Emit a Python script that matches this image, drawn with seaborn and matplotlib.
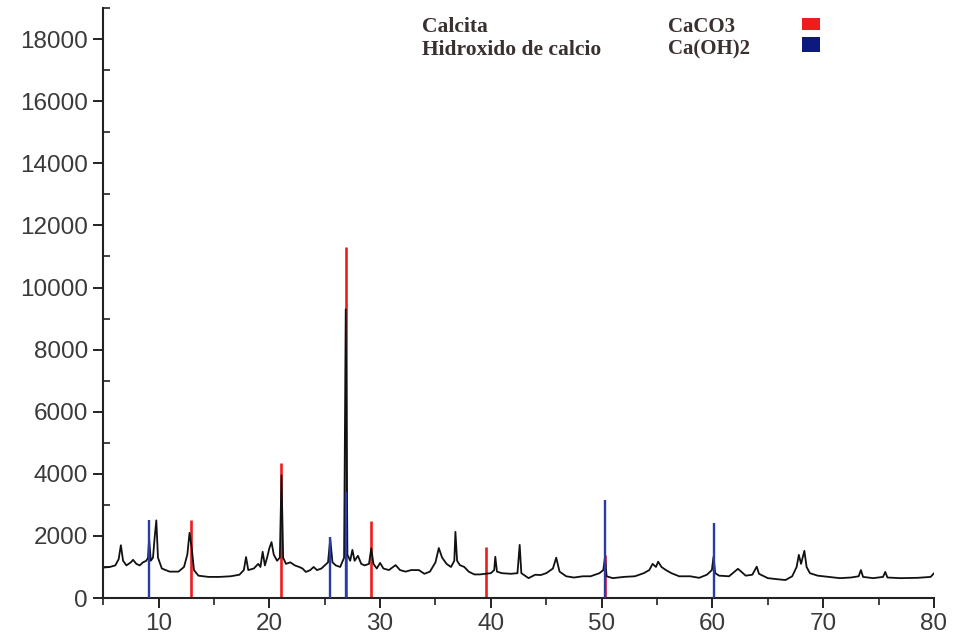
import matplotlib
matplotlib.use("Agg")
import matplotlib.pyplot as plt
import seaborn as sns
import pandas as pd
from matplotlib.ticker import MultipleLocator
from matplotlib.patches import Rectangle

# ---- data ----
two_theta = [5.0, 5.6, 6.1, 6.4, 6.6, 6.8, 7.1, 7.5, 7.7, 8.0, 8.3, 8.6, 8.9, 9.05, 9.15, 9.3,
             9.5, 9.65, 9.8, 9.95, 10.3, 11.0, 11.8, 12.3, 12.6, 12.8, 13.0, 13.2, 13.6, 14.5,
             15.5, 16.5, 17.3, 17.7, 17.9, 18.1, 18.6, 19.0, 19.2, 19.4, 19.6, 19.8, 20.0, 20.2,
             20.4, 20.7, 20.95, 21.1, 21.25, 21.5, 21.9, 22.3, 22.7, 23.0, 23.3, 23.7, 24.0, 24.3,
             24.7, 25.0, 25.3, 25.5, 25.7, 26.0, 26.4, 26.75, 26.9, 27.05, 27.3, 27.5, 27.7, 28.0,
             28.3, 28.6, 29.0, 29.2, 29.4, 29.7, 30.0, 30.3, 30.8, 31.4, 31.8, 32.3, 32.8, 33.5,
             34.0, 34.5, 35.0, 35.3, 35.6, 36.0, 36.4, 36.7, 36.8, 36.95, 37.2, 37.6, 38.0, 38.5,
             39.0, 39.5, 40.0, 40.3, 40.4, 40.55, 41.0, 41.8, 42.4, 42.6, 42.75, 43.4, 44.0, 44.5,
             45.0, 45.6, 45.9, 46.2, 46.8, 47.5, 48.3, 49.0, 49.8, 50.15, 50.3, 50.45, 51.0, 52.0,
             53.0, 53.8, 54.3, 54.6, 54.9, 55.1, 55.4, 55.8, 56.3, 57.0, 58.0, 58.8, 59.5, 59.95,
             60.1, 60.25, 60.6, 61.5, 62.0, 62.3, 62.6, 63.0, 63.6, 64.0, 64.2, 65.0, 66.0, 66.6,
             67.2, 67.6, 67.8, 68.0, 68.3, 68.5, 68.8, 69.5, 70.5, 71.5, 72.5, 73.2, 73.4, 73.6,
             74.5, 75.4, 75.6, 75.8, 77.0, 78.5, 79.7, 80.0]
intensity = [980, 1000, 1050, 1250, 1700, 1200, 1050, 1150, 1230, 1100, 1050, 1150, 1200, 1300, 1900, 1200,
             1300, 1950, 2500, 1300, 950, 850, 850, 1000, 1400, 2100, 1600, 900, 720, 680,
             680, 700, 750, 900, 1320, 900, 950, 1100, 1000, 1490, 1050, 1300, 1600, 1800,
             1400, 1200, 1300, 3950, 1300, 1100, 1150, 1050, 1000, 950, 840, 900, 1000, 900,
             950, 1050, 1150, 1900, 1150, 1050, 1000, 1300, 9300, 1400, 1200, 1550, 1200, 1360,
             1100, 1050, 1100, 1600, 1100, 950, 1130, 950, 900, 1060, 900, 850, 900, 900,
             780, 850, 1150, 1610, 1300, 1100, 1000, 1200, 2130, 1200, 1060, 1000, 850, 760,
             760, 780, 800, 900, 1330, 850, 800, 780, 800, 1710, 800, 640, 750, 740,
             800, 950, 1300, 850, 700, 660, 700, 700, 800, 900, 1300, 700, 640, 680,
             700, 800, 900, 1100, 1000, 1170, 1000, 900, 800, 700, 700, 650, 750, 900,
             1330, 800, 720, 700, 850, 940, 850, 720, 750, 1010, 780, 640, 600, 580,
             700, 1000, 1390, 1100, 1520, 1000, 800, 720, 680, 640, 660, 700, 900, 680,
             640, 680, 840, 660, 640, 650, 680, 800]

calcite_pos = [12.9, 21.1, 26.9, 29.2, 39.6, 50.3]
calcite_int = [2520, 4350, 11300, 2490, 1650, 1400]
portlandite_pos = [9.1, 25.5, 26.9, 50.3, 60.1]
portlandite_int = [2520, 1970, 3400, 3160, 2430]

legend_names = ["Calcita", "Hidroxido de calcio"]
legend_formulas = ["CaCO3", "Ca(OH)2"]

RED = "#ee1c1c"
BLUE = "#2a3aa8"
LEG_BLUE = "#0c1a80"

sns.set_theme(style="ticks")
plt.rcParams["font.family"] = ["Liberation Sans", "DejaVu Sans"]

fig = plt.figure(figsize=(9.55, 6.44), dpi=100)
ax = fig.add_axes([0.108, 0.0714, 0.870, 0.916])

df = pd.DataFrame({"2theta": two_theta, "I": intensity})

ax.vlines(calcite_pos, 0, calcite_int, colors=RED, linewidth=1.9, zorder=1)
sns.lineplot(data=df, x="2theta", y="I", ax=ax, color="#111111", linewidth=1.3,
             zorder=2, estimator=None, sort=False)
ax.vlines(portlandite_pos, 0, portlandite_int, colors=BLUE, linewidth=1.7, zorder=3)

ax.set_xlim(5, 80)
ax.set_ylim(0, 19000)
ax.set_xlabel("")
ax.set_ylabel("")

ax.xaxis.set_major_locator(MultipleLocator(10))
ax.xaxis.set_minor_locator(MultipleLocator(5))
ax.yaxis.set_major_locator(MultipleLocator(2000))
ax.yaxis.set_minor_locator(MultipleLocator(1000))
ax.set_xticks(range(10, 81, 10))

ax.tick_params(axis="both", which="major", direction="out", length=7, width=1.4,
               labelsize=17.5, colors="#222222", labelcolor="#3a3a3a", pad=4)
ax.tick_params(axis="x", which="minor", direction="out", length=5, width=1.2, colors="#222222")
ax.tick_params(axis="y", which="minor", direction="in", length=5, width=1.2, colors="#222222")

for s in ["top", "right"]:
    ax.spines[s].set_visible(False)
for s in ["left", "bottom"]:
    ax.spines[s].set_linewidth(1.5)
    ax.spines[s].set_color("#222222")

# legend block
serif = ["Liberation Serif", "DejaVu Serif"]
ys = [0.958, 0.923]
for name, formula, y in zip(legend_names, legend_formulas, ys):
    fig.text(0.442, y, name, family=serif, fontweight="bold", fontsize=15.5,
             color="#3a3030", va="center", ha="left")
    fig.text(0.699, y, formula, family=serif, fontweight="bold", fontsize=15,
             color="#3a3030", va="center", ha="left")
fig.patches.append(Rectangle((0.840, 0.953), 0.019, 0.019, transform=fig.transFigure,
                             facecolor=RED, edgecolor="none"))
fig.patches.append(Rectangle((0.840, 0.919), 0.019, 0.023, transform=fig.transFigure,
                             facecolor=LEG_BLUE, edgecolor="none"))

fig.savefig("out.png", dpi=100)
